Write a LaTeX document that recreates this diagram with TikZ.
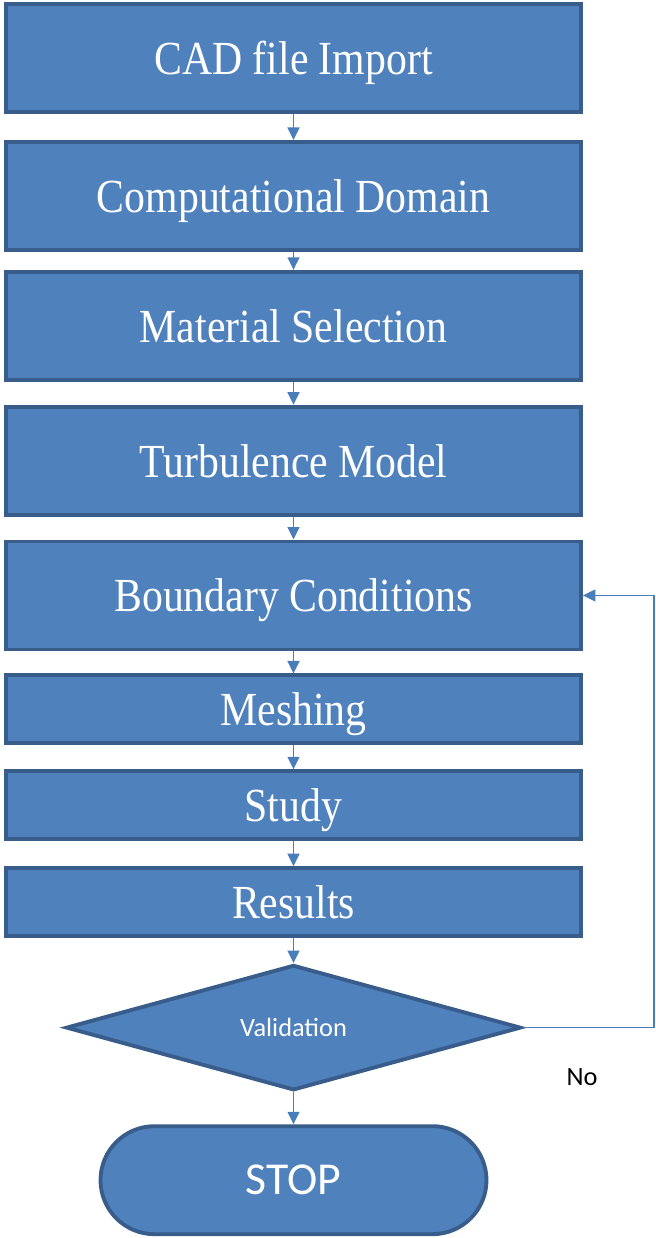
\documentclass[tikz,border=0pt]{standalone}
\usepackage{xcolor}
\usepackage{fontspec}
\setmainfont[FakeStretch=0.88]{Liberation Serif}
\newfontfamily\calibrifont{Carlito}
\usepackage{tikz}
\usetikzlibrary{shapes,arrows.meta,positioning,calc}
\definecolor{boxfill}{HTML}{4F81BD}
\definecolor{boxedge}{HTML}{385D8A}
\definecolor{arrowblue}{HTML}{4A7EBB}

\begin{document}
\begin{tikzpicture}[node distance=0.46cm,
  procbox/.style={rectangle, draw=boxedge, line width=2.2pt, fill=boxfill, minimum width=11.5cm, minimum height=2.16cm, inner sep=0pt, text depth=0pt, text=white, font=\fontsize{27}{30}\selectfont},
  smallbox/.style={procbox, minimum height=1.36cm},
  decision/.style={diamond, draw=boxedge, line width=2.2pt, fill=boxfill, minimum width=9.1cm, minimum height=2.5cm, inner sep=0pt, text=white, font=\calibrifont\fontsize{15}{18}\selectfont},
  terminal/.style={rectangle, rounded corners=1.08cm, draw=boxedge, line width=2.2pt, fill=boxfill, minimum width=7.72cm, minimum height=2.16cm, text=white, font=\calibrifont\fontsize{26}{30}\selectfont},
  flowarrow/.style={-{Triangle[length=2.5mm,width=2.4mm]}, line width=0.8pt, color=arrowblue},
  feedline/.style={-{Triangle[length=2.5mm,width=2.4mm]}, line width=0.8pt, color=arrowblue}]
\useasboundingbox (0,0) rectangle (13.1,-24.76);
\node[procbox] (cad) at (5.87,-1.16) {CAD file Import};
\node[procbox, below=0.52cm of cad] (dom) {Computational Domain};
\node[procbox, below=0.36cm of dom] (mat) {Material Selection};
\node[procbox, below=0.46cm of mat] (turb) {Turbulence Model};
\node[procbox, below=0.46cm of turb] (bc) {Boundary Conditions};
\node[smallbox, below=0.44cm of bc] (mesh) {Meshing};
\node[smallbox, below=0.48cm of mesh] (study) {Study};
\node[smallbox, below=0.5cm of study] (res) {Results};
\node[decision, below=0.5cm of res] (val) {Validation};
\node[terminal, below=0.64cm of val] (stop) {STOP};
\node[font=\calibrifont\fontsize{15}{18}\selectfont] (no) at (11.64,-21.54) {No};
\draw[flowarrow] (cad) -- (dom);
\draw[flowarrow] (dom) -- (mat);
\draw[flowarrow] (mat) -- (turb);
\draw[flowarrow] (turb) -- (bc);
\draw[flowarrow] (bc) -- (mesh);
\draw[flowarrow] (mesh) -- (study);
\draw[flowarrow] (study) -- (res);
\draw[flowarrow] (res) -- (val);
\draw[flowarrow] (val) -- (stop);
\draw[feedline] (val.east) -- ++(2.62,0) |- (bc.east);
\end{tikzpicture}
\end{document}
